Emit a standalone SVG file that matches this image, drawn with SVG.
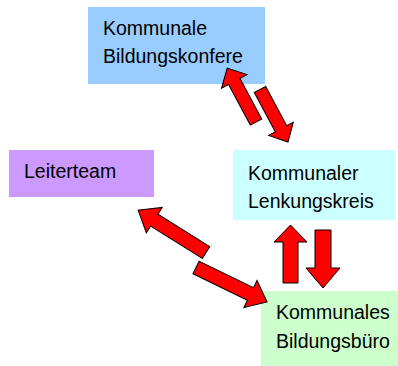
<svg xmlns="http://www.w3.org/2000/svg" width="398" height="366" viewBox="0 0 398 366">
<style>
text{font-family:"Liberation Sans",Arial,sans-serif;font-size:19.5px;fill:#000}
.arr{fill:#FF0000;stroke:#000;stroke-width:1;stroke-linejoin:miter}
</style>
<rect width="398" height="366" fill="#fff"/>
<g id="konferenz">
<rect x="88" y="7" width="177" height="77" fill="#99CCFF"/>
<text x="103" y="35">Kommunale</text>
<text x="103" y="63">Bildungskonfere</text>
</g>
<g id="lenkungskreis">
<rect x="233" y="150" width="162" height="70" fill="#CCFFFF"/>
<text x="248" y="180">Kommunaler</text>
<text x="248" y="208">Lenkungskreis</text>
</g>
<g id="leiterteam">
<rect x="9" y="150" width="145" height="47" fill="#CC99FF"/>
<text x="24" y="178">Leiterteam</text>
</g>
<g id="buero">
<rect x="261" y="291" width="137" height="75" fill="#CCFFCC"/>
<text x="276" y="319">Kommunales</text>
<text x="276" y="348">Bildungsbüro</text>
</g>
<g id="connectors">
<polygon class="arr" transform="translate(256,122) rotate(-118.2)" points="0,-6.5 46,-6.5 46,-14.5 61,0 46,14.5 46,6.5 0,6.5"/>
<polygon class="arr" transform="translate(260,89.5) rotate(61.9)" points="0,-6.5 44.5,-6.5 44.5,-14 59.5,0 44.5,14 44.5,6.5 0,6.5"/>
<polygon class="arr" transform="translate(206,252.5) rotate(-148)" points="0,-7 61,-7 61,-15 80,0 61,15 61,7 0,7"/>
<polygon class="arr" transform="translate(196,267.5) rotate(25.9)" points="0,-7 60.5,-7 60.5,-15 79,0 60.5,15 60.5,7 0,7"/>
<polygon class="arr" transform="translate(290.5,283) rotate(-90)" points="0,-7.5 41,-7.5 41,-16.5 58,0 41,16.5 41,7.5 0,7.5"/>
<polygon class="arr" transform="translate(323,230) rotate(90)" points="0,-8 38,-8 38,-17 58,0 38,17 38,8 0,8"/>
</g>
</svg>
